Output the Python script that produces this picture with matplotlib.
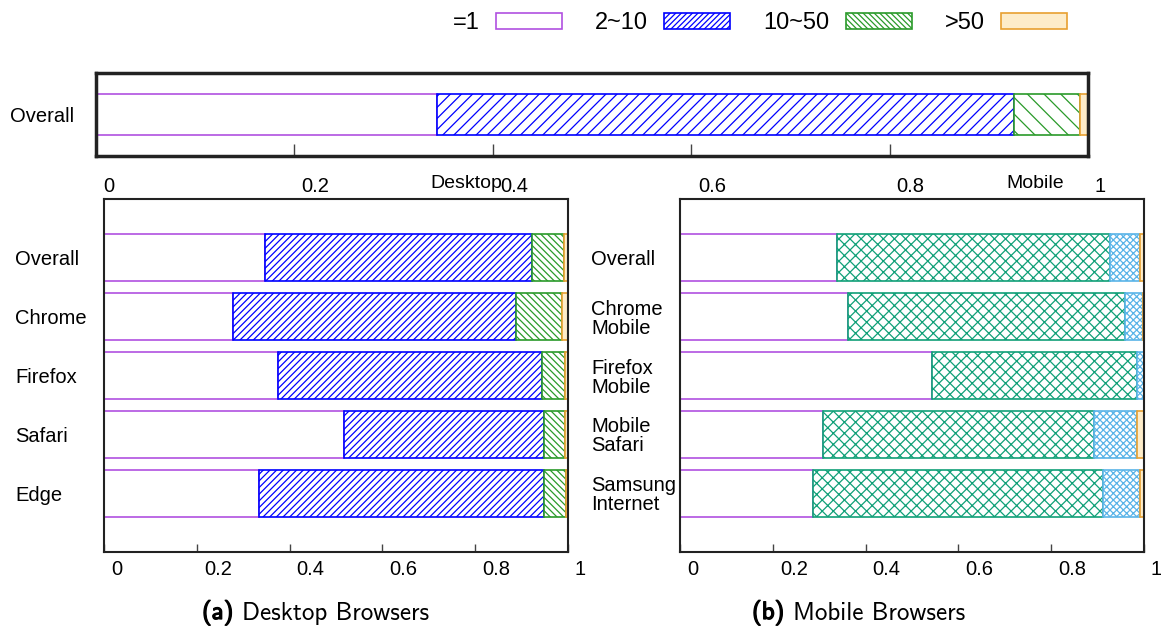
import matplotlib

matplotlib.use("Agg")
import matplotlib.patheffects as pe
import matplotlib.pyplot as plt
import numpy as np
from matplotlib import transforms
from matplotlib.patches import Patch

W, H, DPI = 1161, 634, 100

bins = ["=1", "2~10", "10~50", ">50"]
x_ticks = [0, 0.2, 0.4, 0.6, 0.8, 1.0]
x_tick_labels = ["0", "0.2", "0.4", "0.6", "0.8", "1"]

# share of pages per bucket
overall_rows = ["Overall"]
overall_eq1 = [0.344]
overall_2_10 = [0.581]
overall_10_50 = [0.067]
overall_gt50 = [0.008]

desktop_rows = ["Overall", "Chrome", "Firefox", "Safari", "Edge"]
desktop_eq1 = [0.346, 0.277, 0.374, 0.518, 0.335]
desktop_2_10 = [0.577, 0.612, 0.571, 0.430, 0.614]
desktop_10_50 = [0.069, 0.098, 0.049, 0.046, 0.047]
desktop_gt50 = [0.008, 0.013, 0.006, 0.006, 0.004]

mobile_rows = ["Overall", "Chrome\nMobile", "Firefox\nMobile", "Mobile\nSafari", "Samsung\nInternet"]
mobile_eq1 = [0.338, 0.362, 0.544, 0.308, 0.287]
mobile_2_10 = [0.588, 0.596, 0.440, 0.585, 0.624]
mobile_10_50 = [0.066, 0.040, 0.015, 0.091, 0.081]
mobile_gt50 = [0.008, 0.002, 0.001, 0.016, 0.008]

PURPLE = "#b050e0"
BLUE = "#0000ff"
GREEN = "#2a9a2a"
ORANGE = "#e8a030"
ORANGE_FILL = "#fdecc9"
TEAL = "#10a078"
SKY = "#5ab4e8"

plt.rcParams["font.family"] = ["Liberation Sans", "DejaVu Sans"]
plt.rcParams["hatch.linewidth"] = 0.9

fig = plt.figure(figsize=(W / DPI, H / DPI), dpi=DPI)


def px_axes(x0, y0, x1, y1):
    return fig.add_axes([x0 / W, 1 - y1 / H, (x1 - x0) / W, (y1 - y0) / H])


def stacked(ax, series, styles, height):
    y = np.arange(len(series[0]))
    left = np.zeros(len(y))
    for values, (face, edge, hatch) in zip(series, styles):
        values = np.asarray(values, dtype=float)
        ax.barh(y, values, left=left, height=height, facecolor=face,
                edgecolor=edge, hatch=hatch, linewidth=1.2)
        left += values


def format_axis(ax, rows, ylabel_pad_px, tick_len_px, xlabel_pad_px, spine_lw):
    ax.set_xlim(0, 1)
    ax.set_xticks(x_ticks, x_tick_labels)
    ax.set_yticks(range(len(rows)), rows)
    ax.tick_params(axis="x", direction="in", length=tick_len_px * 0.72,
                   width=1, color="#444444", pad=xlabel_pad_px * 0.72, labelsize=14.5)
    ax.tick_params(axis="y", length=0, pad=ylabel_pad_px * 0.72, labelsize=14.5)
    for spine in ax.spines.values():
        spine.set_linewidth(spine_lw)
        spine.set_color("#222222")
    for label in ax.get_yticklabels():
        label.set_horizontalalignment("left")
        label.set_linespacing(1.0)
    # gnuplot-style labels: left-aligned just right of each tick
    shift = transforms.ScaledTranslation(7 / DPI, 0, fig.dpi_scale_trans)
    for tick in ax.xaxis.get_major_ticks():
        tick.label1.set_horizontalalignment("left")
        tick.label1.set_transform(tick.label1.get_transform() + shift)


# overall strip at the top
ax_top = px_axes(96, 73, 1088, 156)
stacked(ax_top, [overall_eq1, overall_2_10, overall_10_50, overall_gt50],
        [("white", PURPLE, None), ("white", BLUE, "///"),
         ("white", GREEN, "\\\\"), (ORANGE_FILL, ORANGE, None)], 0.99)
ax_top.set_ylim(-1, 1)
format_axis(ax_top, overall_rows, 86, 12, 21, 2.5)

# desktop browsers
ax_d = px_axes(104, 199, 568, 552)
stacked(ax_d, [desktop_eq1, desktop_2_10, desktop_10_50, desktop_gt50],
        [("white", PURPLE, None), ("white", BLUE, "/////"),
         ("white", GREEN, "\\\\\\\\\\"), (ORANGE_FILL, ORANGE, None)], 0.8)
ax_d.set_ylim(5, -1)
format_axis(ax_d, desktop_rows, 89, 8, 8, 1.5)
ax_d.text(0.78, 1.045, "Desktop", transform=ax_d.transAxes, ha="center",
          va="center", fontsize=14)

# mobile browsers
ax_m = px_axes(680, 199, 1144, 552)
stacked(ax_m, [mobile_eq1, mobile_2_10, mobile_10_50, mobile_gt50],
        [("white", PURPLE, None), ("white", TEAL, "xxx"),
         ("white", SKY, "xxxxx"), (ORANGE_FILL, ORANGE, None)], 0.8)
ax_m.set_ylim(5, -1)
format_axis(ax_m, mobile_rows, 89, 8, 8, 1.5)
ax_m.text(0.765, 1.045, "Mobile", transform=ax_m.transAxes, ha="center",
          va="center", fontsize=14)

# legend across the top
handles = [
    Patch(facecolor="white", edgecolor=PURPLE, linewidth=1.2),
    Patch(facecolor="white", edgecolor=BLUE, hatch="//////", linewidth=1.2),
    Patch(facecolor="white", edgecolor=GREEN, hatch="\\\\\\\\\\\\", linewidth=1.2),
    Patch(facecolor=ORANGE_FILL, edgecolor=ORANGE, linewidth=1.2),
]
fig.legend(handles, bins, loc="center left", bbox_to_anchor=(453 / W, 1 - 23 / H),
           ncol=4, frameon=False, markerfirst=False, fontsize=17,
           handlelength=2.8, handleheight=0.68, handletextpad=0.68,
           columnspacing=1.4, borderpad=0, borderaxespad=0)

# sub-figure captions, bold tag faked with a thin stroke
bold = [pe.withStroke(linewidth=0.9, foreground="black")]
for x_px, tag, caption in [(202, "(a)", "Desktop Browsers"), (752, "(b)", "Mobile Browsers")]:
    t = fig.text(x_px / W, 1 - 625 / H, tag, family="cmss10", fontsize=18,
                 va="bottom", ha="left", path_effects=bold)
    ax_d.annotate(caption, xy=(1, 0), xycoords=t, xytext=(6, 0),
                  textcoords="offset points", family="cmss10", fontsize=18,
                  va="bottom", ha="left", annotation_clip=False)

fig.savefig("out.png", dpi=DPI)
